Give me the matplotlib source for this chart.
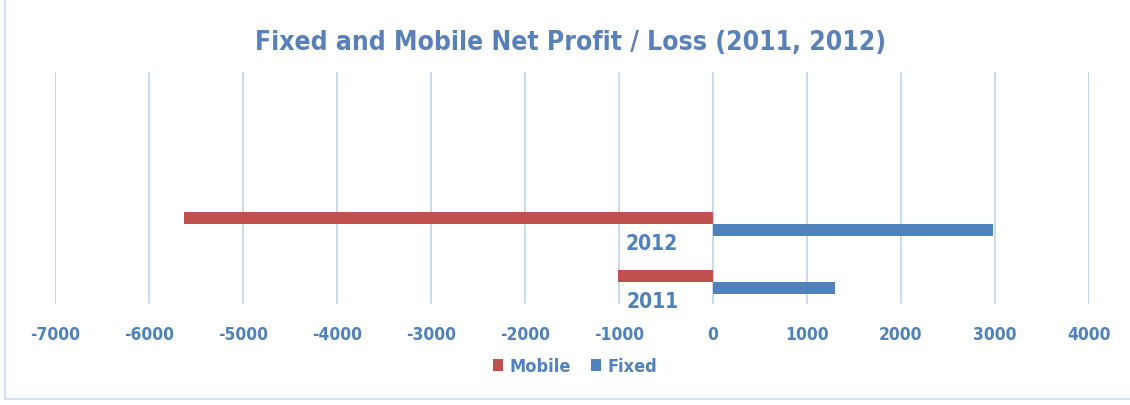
import matplotlib.pyplot as plt
from matplotlib.lines import Line2D
import numpy as np

# data
years = ["2011", "2012"]
mobile = [-1010, -5630]
fixed = [1300, 2975]
ticks = list(range(-7000, 5000, 1000))

RED = "#c0504d"
BLUE = "#4f81bd"
GRID = "#c6d6ec"

plt.rcParams["font.family"] = ["DejaVu Sans"]
plt.rcParams["font.stretch"] = "condensed"
plt.rcParams["font.weight"] = "bold"

fig = plt.figure(figsize=(11.3, 4.06), dpi=100)
ax = fig.add_axes([0.0487, 0.249, 0.915, 0.571])

y = np.arange(len(years))
h = 0.207
ax.barh(y + h / 2, mobile, height=h, color=RED, label="Mobile")
ax.barh(y - h / 2, fixed, height=h, color=BLUE, label="Fixed")

ax.set_xlim(-7000, 4000)
ax.set_ylim(-0.38, 3.62)
ax.set_xticks(ticks)
ax.set_xticklabels([str(t) for t in ticks], fontsize=12.5, color=BLUE)
ax.set_yticks([])
ax.tick_params(axis="x", length=0, pad=15)
ax.grid(axis="x", color=GRID, linewidth=1.3)
ax.set_axisbelow(True)
for s in ax.spines.values():
    s.set_visible(False)

# category labels sit just left of the zero line, under the bars
for yi, lab in zip(y, years):
    ax.text(-370, yi - 0.33, lab, ha="right", va="center", fontsize=15,
            color=BLUE)

fig.text(0.505, 0.895, "Fixed and Mobile Net Profit / Loss (2011, 2012)",
         ha="center", va="center", fontsize=19, color="#5a80b8")

ax.legend(loc="center", bbox_to_anchor=(0.509, 0.095), bbox_transform=fig.transFigure,
          ncol=2, frameon=False, handlelength=0.55, handleheight=0.6,
          handletextpad=0.35, columnspacing=1.1,
          prop={"weight": "bold", "size": 13, "stretch": "condensed"},
          labelcolor=BLUE)

# chart border (left and bottom edges only are visible)
fig.add_artist(Line2D([0.004, 0.004, 1.0], [1.0, 0.014, 0.014],
                      transform=fig.transFigure, color="#d5dfee", linewidth=1.5))

fig.savefig("out.png", dpi=100)
